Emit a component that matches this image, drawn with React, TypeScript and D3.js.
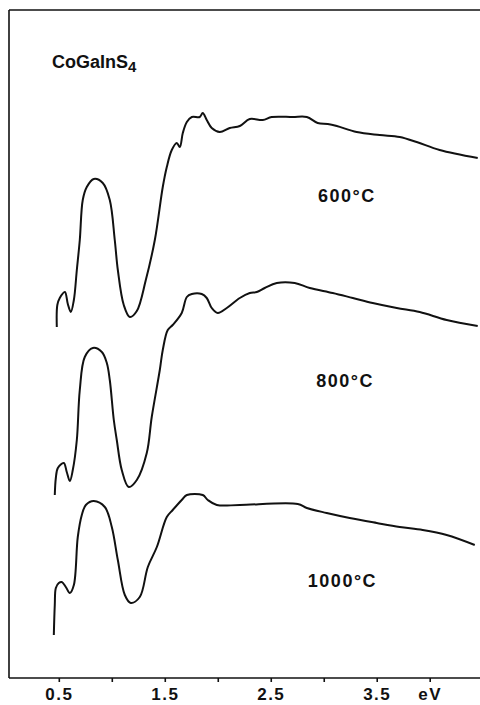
import React, { useEffect, useRef } from 'react';
import * as d3 from 'd3';

// photon energy (eV) and absorbance (arb. units)
const ev600 = [0.481, 0.486, 0.509, 0.557, 0.585, 0.613, 0.642, 0.670, 0.698, 0.726, 0.764, 0.830, 0.915, 0.981, 1.028, 1.057, 1.113, 1.170, 1.236, 1.321, 1.406, 1.481, 1.519, 1.566, 1.613, 1.642, 1.670, 1.708, 1.755, 1.830, 1.858, 1.896, 1.943, 2.019, 2.113, 2.208, 2.302, 2.425, 2.509, 2.708, 2.840, 2.943, 3.038, 3.123, 3.311, 3.528, 3.717, 3.877, 4.094, 4.453];
const abs600 = [3.52, 3.74, 3.81, 3.87, 3.75, 3.67, 3.79, 4.09, 4.39, 4.79, 4.92, 5.00, 4.96, 4.79, 4.39, 4.09, 3.74, 3.62, 3.68, 3.99, 4.39, 4.92, 5.12, 5.29, 5.36, 5.32, 5.46, 5.57, 5.62, 5.62, 5.66, 5.59, 5.51, 5.47, 5.51, 5.53, 5.60, 5.59, 5.62, 5.62, 5.62, 5.56, 5.55, 5.53, 5.47, 5.44, 5.42, 5.37, 5.29, 5.21];

const ev800 = [0.462, 0.472, 0.491, 0.547, 0.575, 0.604, 0.632, 0.670, 0.698, 0.745, 0.821, 0.906, 0.953, 0.981, 1.019, 1.047, 1.094, 1.160, 1.236, 1.330, 1.377, 1.453, 1.481, 1.528, 1.575, 1.660, 1.708, 1.755, 1.849, 1.896, 1.943, 2.000, 2.085, 2.208, 2.302, 2.368, 2.443, 2.557, 2.726, 2.868, 3.085, 3.274, 3.462, 3.689, 3.906, 4.160, 4.453];
const abs800 = [1.84, 2.01, 2.11, 2.16, 2.07, 1.98, 2.09, 2.39, 2.89, 3.22, 3.31, 3.27, 3.16, 2.99, 2.59, 2.39, 2.09, 1.92, 1.99, 2.26, 2.62, 3.09, 3.29, 3.49, 3.54, 3.66, 3.82, 3.85, 3.85, 3.81, 3.71, 3.66, 3.71, 3.81, 3.86, 3.87, 3.91, 3.96, 3.96, 3.91, 3.86, 3.81, 3.76, 3.71, 3.67, 3.59, 3.53];

const ev1000 = [0.453, 0.462, 0.472, 0.500, 0.528, 0.566, 0.604, 0.642, 0.679, 0.717, 0.755, 0.830, 0.934, 1.000, 1.057, 1.123, 1.179, 1.264, 1.340, 1.425, 1.519, 1.575, 1.660, 1.708, 1.858, 1.906, 1.991, 2.208, 2.755, 2.840, 3.028, 3.245, 3.500, 3.717, 3.934, 4.160, 4.425];
const abs1000 = [0.44, 0.74, 0.91, 0.96, 0.97, 0.92, 0.86, 0.94, 1.42, 1.64, 1.74, 1.78, 1.72, 1.52, 1.19, 0.84, 0.76, 0.82, 1.12, 1.32, 1.62, 1.69, 1.79, 1.84, 1.84, 1.79, 1.74, 1.74, 1.75, 1.71, 1.66, 1.61, 1.56, 1.52, 1.49, 1.44, 1.34];

const seriesLabels = ['600°C', '800°C', '1000°C'];
const labelAnchors = [[2.945, 4.77], [2.93, 2.92], [2.85, 0.92]]; // eV, abs for the text baseline start

const tickValues = [0.5, 1.0, 1.5, 2.0, 2.5, 3.0, 3.5, 4.0];
const tickLabels = ['0.5', '', '1.5', '', '2.5', '', '3.5', 'eV'];

const width = 480;
const height = 705;

const App = () => {
    const svgRef = useRef(null);

    useEffect(() => {
        const svg = d3.select(svgRef.current);
        svg.selectAll('*').remove();

        const font = '"Liberation Sans", Arial, Helvetica, sans-serif';

        const x = d3.scaleLinear().domain([0.03, 4.55]).range([9, 488]);
        const y = d3.scaleLinear().domain([0, 6.69]).range([679, 10]);

        // frame: top and left borders
        svg.append('line')
            .attr('x1', x(0.03)).attr('x2', width)
            .attr('y1', 10).attr('y2', 10)
            .attr('stroke', '#111').attr('stroke-width', 1.6);
        svg.append('line')
            .attr('x1', x(0.03)).attr('x2', x(0.03))
            .attr('y1', 10).attr('y2', 678)
            .attr('stroke', '#111').attr('stroke-width', 1.6);

        // bottom axis
        const axis = svg.append('g')
            .attr('transform', 'translate(0,678)')
            .call(d3.axisBottom(x)
                .tickValues(tickValues)
                .tickSize(4)
                .tickSizeOuter(0)
                .tickPadding(6)
                .tickFormat((d, i) => tickLabels[i]));
        axis.select('.domain')
            .attr('d', `M${x(0.03)},0H${width}`)
            .attr('stroke', '#111').attr('stroke-width', 1.6);
        axis.selectAll('.tick line').attr('stroke', '#111').attr('stroke-width', 1.6);
        axis.selectAll('.tick text')
            .attr('fill', '#111')
            .style('font-family', font)
            .style('font-size', '17px')
            .style('font-weight', 'bold')
            .style('letter-spacing', '1.5px');

        // spectra
        const line = d3.line()
            .x(d => x(d[0]))
            .y(d => y(d[1]))
            .curve(d3.curveCatmullRom.alpha(0.5));

        const series = [
            [ev600, abs600],
            [ev800, abs800],
            [ev1000, abs1000],
        ];
        series.forEach(([ev, ab]) => {
            svg.append('path')
                .datum(ev.map((e, i) => [e, ab[i]]))
                .attr('fill', 'none')
                .attr('stroke', '#111')
                .attr('stroke-width', 2)
                .attr('stroke-linejoin', 'round')
                .attr('d', line);
        });

        // temperature labels
        seriesLabels.forEach((s, i) => {
            svg.append('text')
                .attr('x', x(labelAnchors[i][0]))
                .attr('y', y(labelAnchors[i][1]))
                .attr('fill', '#111')
                .style('font-family', font)
                .style('font-size', '18px')
                .style('font-weight', 'bold')
                .style('letter-spacing', '1.5px')
                .text(s);
        });

        // compound name
        const title = svg.append('text')
            .attr('x', 52)
            .attr('y', 68)
            .attr('fill', '#111')
            .style('font-family', font)
            .style('font-size', '18px')
            .style('font-weight', 'bold');
        title.append('tspan').text('CoGaInS');
        title.append('tspan').attr('dy', 4).style('font-size', '15px').text('4');
    }, []);

    return (
        <svg
            ref={svgRef}
            width={width}
            height={height}
            style={{ position: 'absolute', left: 0, top: 0, background: '#fff' }}
        ></svg>
    );
};

export default App;
